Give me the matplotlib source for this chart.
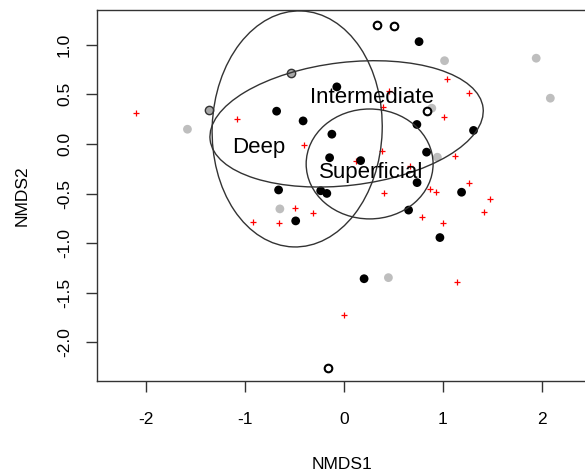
import numpy as np
import matplotlib
matplotlib.use("Agg")
import matplotlib.pyplot as plt
from matplotlib.patches import Ellipse

plt.rcParams['font.family'] = ['Liberation Sans', 'DejaVu Sans']

# black filled sites
black_x = [0.758, -0.074, -0.683, -0.415, 0.736, 1.309, -0.124, 0.834, -0.147, 0.167,
           0.738, -0.663, -0.237, -0.175, 1.188, -0.490, 0.652, 0.969, 0.202]
black_y = [1.031, 0.575, 0.330, 0.232, 0.196, 0.136, 0.098, -0.083, -0.139, -0.168,
           -0.390, -0.464, -0.472, -0.499, -0.487, -0.776, -0.667, -0.944, -1.359]
# grey filled sites
grey_x = [-1.585, 1.016, 1.943, 2.086, 0.887, 0.943, -0.650, 0.448]
grey_y = [0.148, 0.839, 0.864, 0.461, 0.360, -0.134, -0.655, -1.348]
# grey sites with black outline
greyo_x = [-1.365, -0.536]
greyo_y = [0.343, 0.719]
# open circles
open_x = [0.337, 0.506, 0.836, -0.159]
open_y = [1.203, 1.190, 0.336, -2.255]
# species (red +)
sp_x = [-2.103, -1.079, -0.402, 0.450, 1.036, 1.267, 1.013, 0.389, 0.387, 0.119,
        0.664, 1.122, 1.267, 0.402, 0.865, 0.930, 1.473, 1.411, 0.789, 0.999,
        1.143, -0.002, -0.495, -0.315, -0.920, -0.654]
sp_y = [0.316, 0.249, -0.010, 0.537, 0.657, 0.509, 0.267, 0.373, -0.071, -0.176,
        -0.220, -0.121, -0.399, -0.497, -0.454, -0.486, -0.556, -0.682, -0.739, -0.799,
        -1.394, -1.724, -0.642, -0.701, -0.789, -0.799]

# ellipses: group, centre x, centre y, semi-axis 1, semi-axis 2, angle (deg)
groups = ["Deep", "Intermediate", "Superficial"]
ell_cx = [-0.475, 0.025, 0.258]
ell_cy = [0.151, 0.202, -0.202]
ell_a = [1.19, 1.39, 0.642]
ell_b = [0.86, 0.62, 0.554]
ell_ang = [88.0, 6.7, 0.0]
label_x = [-0.86, 0.283, 0.273]
label_y = [-0.04, 0.464, -0.292]

xticks = [-2, -1, 0, 1, 2]
yticks = [-2.0, -1.5, -1.0, -0.5, 0.0, 0.5, 1.0]
ytick_labels = ["-2.0", "-1.5", "-1.0", "-0.5", "0.0", "0.5", "1.0"]

fig = plt.figure(figsize=(5.85, 4.75), dpi=100)
ax = fig.add_axes([97/585, 1 - 381/475, (587 - 97)/585, (381 - 10)/475])

ax.scatter(sp_x, sp_y, marker='+', s=24, color='red', linewidths=0.9, zorder=3)
ax.scatter(grey_x, grey_y, s=40, color='#BEBEBE', edgecolors='none', zorder=3)
ax.scatter(black_x, black_y, s=40, color='black', edgecolors='none', zorder=3)
ax.scatter(greyo_x, greyo_y, s=36, color='#A8A8A8', edgecolors='#333333', linewidths=1.0, zorder=3)
ax.scatter(open_x, open_y, s=30, color='white', edgecolors='black', linewidths=1.5, zorder=3)

for cx, cy, a, b, ang in zip(ell_cx, ell_cy, ell_a, ell_b, ell_ang):
    e = Ellipse((cx, cy), 2 * a, 2 * b, angle=ang, fill=False, edgecolor='#333333', linewidth=1.0, zorder=4)
    ax.add_patch(e)

for g, lx, ly in zip(groups, label_x, label_y):
    ax.text(lx, ly, g, fontsize=16, ha='center', va='center', color='black', zorder=5)

ax.set_xlim(-2.50, 2.457)
ax.set_ylim(-2.39, 1.35)
ax.set_xticks(xticks)
ax.set_xticklabels([str(t) for t in xticks])
ax.set_yticks(yticks)
ax.set_yticklabels(ytick_labels, rotation=90, va='center')
ax.tick_params(axis='both', length=8, width=1, labelsize=12.5, color='#333333')
ax.tick_params(axis='x', pad=14)
ax.tick_params(axis='y', pad=10)
for s in ax.spines.values():
    s.set_linewidth(1.0)
    s.set_color('#333333')
ax.set_xlabel("NMDS1", fontsize=12.5, labelpad=22)
ax.set_ylabel("NMDS2", fontsize=12.5, labelpad=20)

fig.savefig("out.png", dpi=100)
